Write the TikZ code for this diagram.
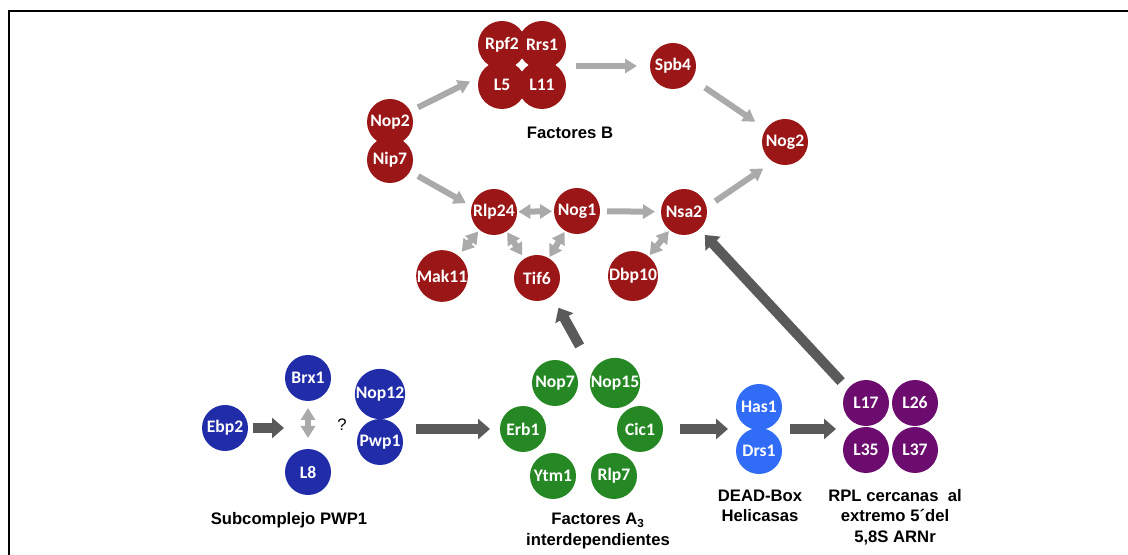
\documentclass[tikz,border=0pt]{standalone}
\usepackage{fontspec}
\setmainfont{Liberation Sans}
\newfontfamily\circfont{Carlito}
\usetikzlibrary{arrows.meta}
\definecolor{redp}{RGB}{155,22,22}
\definecolor{bluep}{RGB}{32,44,168}
\definecolor{greenp}{RGB}{38,136,36}
\definecolor{lbluep}{RGB}{48,108,245}
\definecolor{purplep}{RGB}{108,12,110}
\definecolor{lgray}{RGB}{170,170,170}
\definecolor{dgray}{RGB}{90,90,90}

\begin{document}
\begin{tikzpicture}[x=0.75pt,y=0.75pt,yscale=-1,xscale=1,
	prot/.style={circle,inner sep=0pt,outer sep=0pt,minimum size=34.5pt,text=white,font={\circfont\fontsize{13.2}{13}\selectfont\bfseries}},
	redc/.style={prot,fill=redp},
	bigred/.style={redc,minimum size=36pt},
	bluec/.style={prot,fill=bluep},
	greenc/.style={prot,fill=greenp},
	lbluec/.style={prot,fill=lbluep},
	purplec/.style={prot,fill=purplep},
	caption/.style={align=center,inner sep=0pt,font={\fontsize{12.5}{15.5}\selectfont\bfseries}},
	lgarrow/.style={draw=lgray,line width=4.5pt,-{Triangle[length=9pt,width=10.5pt]}},
	lgboth/.style={draw=lgray,line width=4.5pt,{Triangle[length=9pt,width=10.5pt]}-{Triangle[length=9pt,width=10.5pt]}},
	dgarrow/.style={draw=dgray,line width=7.5pt,-{Triangle[length=9pt,width=15pt]}}]
	\useasboundingbox (0,0) rectangle (1128,555);
	\draw [line width=1.6pt] (9,555) -- (9,11) -- (1128,11);

	\node [bigred] (rpf2) at (502,45) {Rpf2};
	\node [bigred] (rrs1) at (542,45) {Rrs1};
	\node [bigred] (l5) at (502,85) {L5};
	\node [bigred] (l11) at (542,85) {L11};
	\node [redc] (spb4) at (673,66) {Spb4};
	\node [redc] (nop2) at (390,122) {Nop2};
	\node [redc] (nip7) at (390,160) {Nip7};
	\node [redc] (nog2) at (785,142) {Nog2};
	\node [redc] (rlp24) at (494,212) {Rlp24};
	\node [redc] (nog1) at (577,211) {Nog1};
	\node [redc] (nsa2) at (684,212) {Nsa2};
	\node [redc] (mak11) at (442,276) {Mak11};
	\node [redc] (tif6) at (537,278) {Tif6};
	\node [redc] (dbp10) at (633,276) {Dbp10};
	\node [caption] (factb) at (570,133) {Factores B};

	\node [bluec] (ebp2) at (225,428) {Ebp2};
	\node [bluec] (brx1) at (308,378) {Brx1};
	\node [bluec] (l8) at (308,472) {L8};
	\node [bluec] (nop12) at (380,394) {Nop12};
	\node [bluec] (pwp1) at (380,442) {Pwp1};
	\node [inner sep=0pt,font={\fontsize{12.5}{13}\selectfont}] (qmark) at (342,425) {?};
	\node [caption] (pwpcap) at (289,520) {Subcomplejo PWP1};

	\node [greenc] (nop7) at (555,383) {Nop7};
	\node [greenc] (nop15) at (615,383) {Nop15};
	\node [greenc] (erb1) at (523,429) {Erb1};
	\node [greenc] (cic1) at (640,429) {Cic1};
	\node [greenc] (ytm1) at (553,476) {Ytm1};
	\node [greenc] (rlp7) at (614,476) {Rlp7};
	\node [caption] (a3cap) at (598,531) {Factores A\textsubscript{3}\\interdependientes};

	\node [lbluec] (has1) at (759,407) {Has1};
	\node [lbluec] (drs1) at (759,451) {Drs1};
	\node [caption] (deadcap) at (760,506) {DEAD-Box\\Helicasas};

	\node [purplec] (l17) at (866,403) {L17};
	\node [purplec] (l26) at (915,403) {L26};
	\node [purplec] (l35) at (866,450) {L35};
	\node [purplec] (l37) at (915,450) {L37};
	\node [caption] (rplcap) at (895,517) {RPL cercanas\ \ al\\extremo 5´del\\5,8S ARNr};

	\draw [lgarrow,shorten <=6.4pt,shorten >=7.9pt] (nop2.28) -- (l5.160);
	\draw [lgarrow,shorten <=7.5pt,shorten >=9.75pt] (spb4 -| l11.east) -- (spb4);
	\draw [lgarrow,shorten <=11.75pt,shorten >=9.75pt] (spb4) -- (nog2);
	\draw [lgarrow,shorten <=8pt,shorten >=9pt] (nsa2.12) -- (nog2.239);
	\draw [lgarrow,shorten <=7pt,shorten >=5pt] (nip7.-30) -- (rlp24.166);
	\draw [lgboth,shorten <=1pt,shorten >=1.5pt] (rlp24) -- (nog1);
	\draw [lgarrow,shorten <=5.25pt,shorten >=4.5pt] (nog1) -- (nsa2);
	\draw [lgboth,shorten <=4pt,shorten >=1.5pt] (mak11) -- (rlp24);
	\draw [lgboth,shorten <=1pt,shorten >=3pt] (rlp24) -- (tif6);
	\draw [lgboth,shorten <=1pt,shorten >=1pt] (tif6) -- (nog1);
	\draw [lgboth,shorten <=1.35pt,shorten >=1pt] (dbp10) -- (nsa2);
	\draw [lgboth,shorten <=5.25pt,shorten >=8.25pt] (brx1) -- (l8);

	\draw [dgarrow,shorten <=21pt,shorten >=10.4pt] (nop15.150) -- (tif6.-50);
	\draw [dgarrow,shorten <=7.4pt,shorten >=6pt] (l17.142) -- (nsa2.-48);
	\draw [dgarrow,shorten <=3.75pt,shorten >=18pt] (ebp2) -- (ebp2 -| brx1);
	\draw [dgarrow,shorten <=27pt,shorten >=7.5pt] (erb1 -| pwp1) -- (erb1);
	\draw [dgarrow,shorten <=12.75pt,shorten >=23.25pt] (cic1) -- (cic1 -| has1);
	\draw [dgarrow,shorten <=23.25pt,shorten >=22.5pt] (cic1 -| drs1) -- (cic1 -| l17);
\end{tikzpicture}
\end{document}
